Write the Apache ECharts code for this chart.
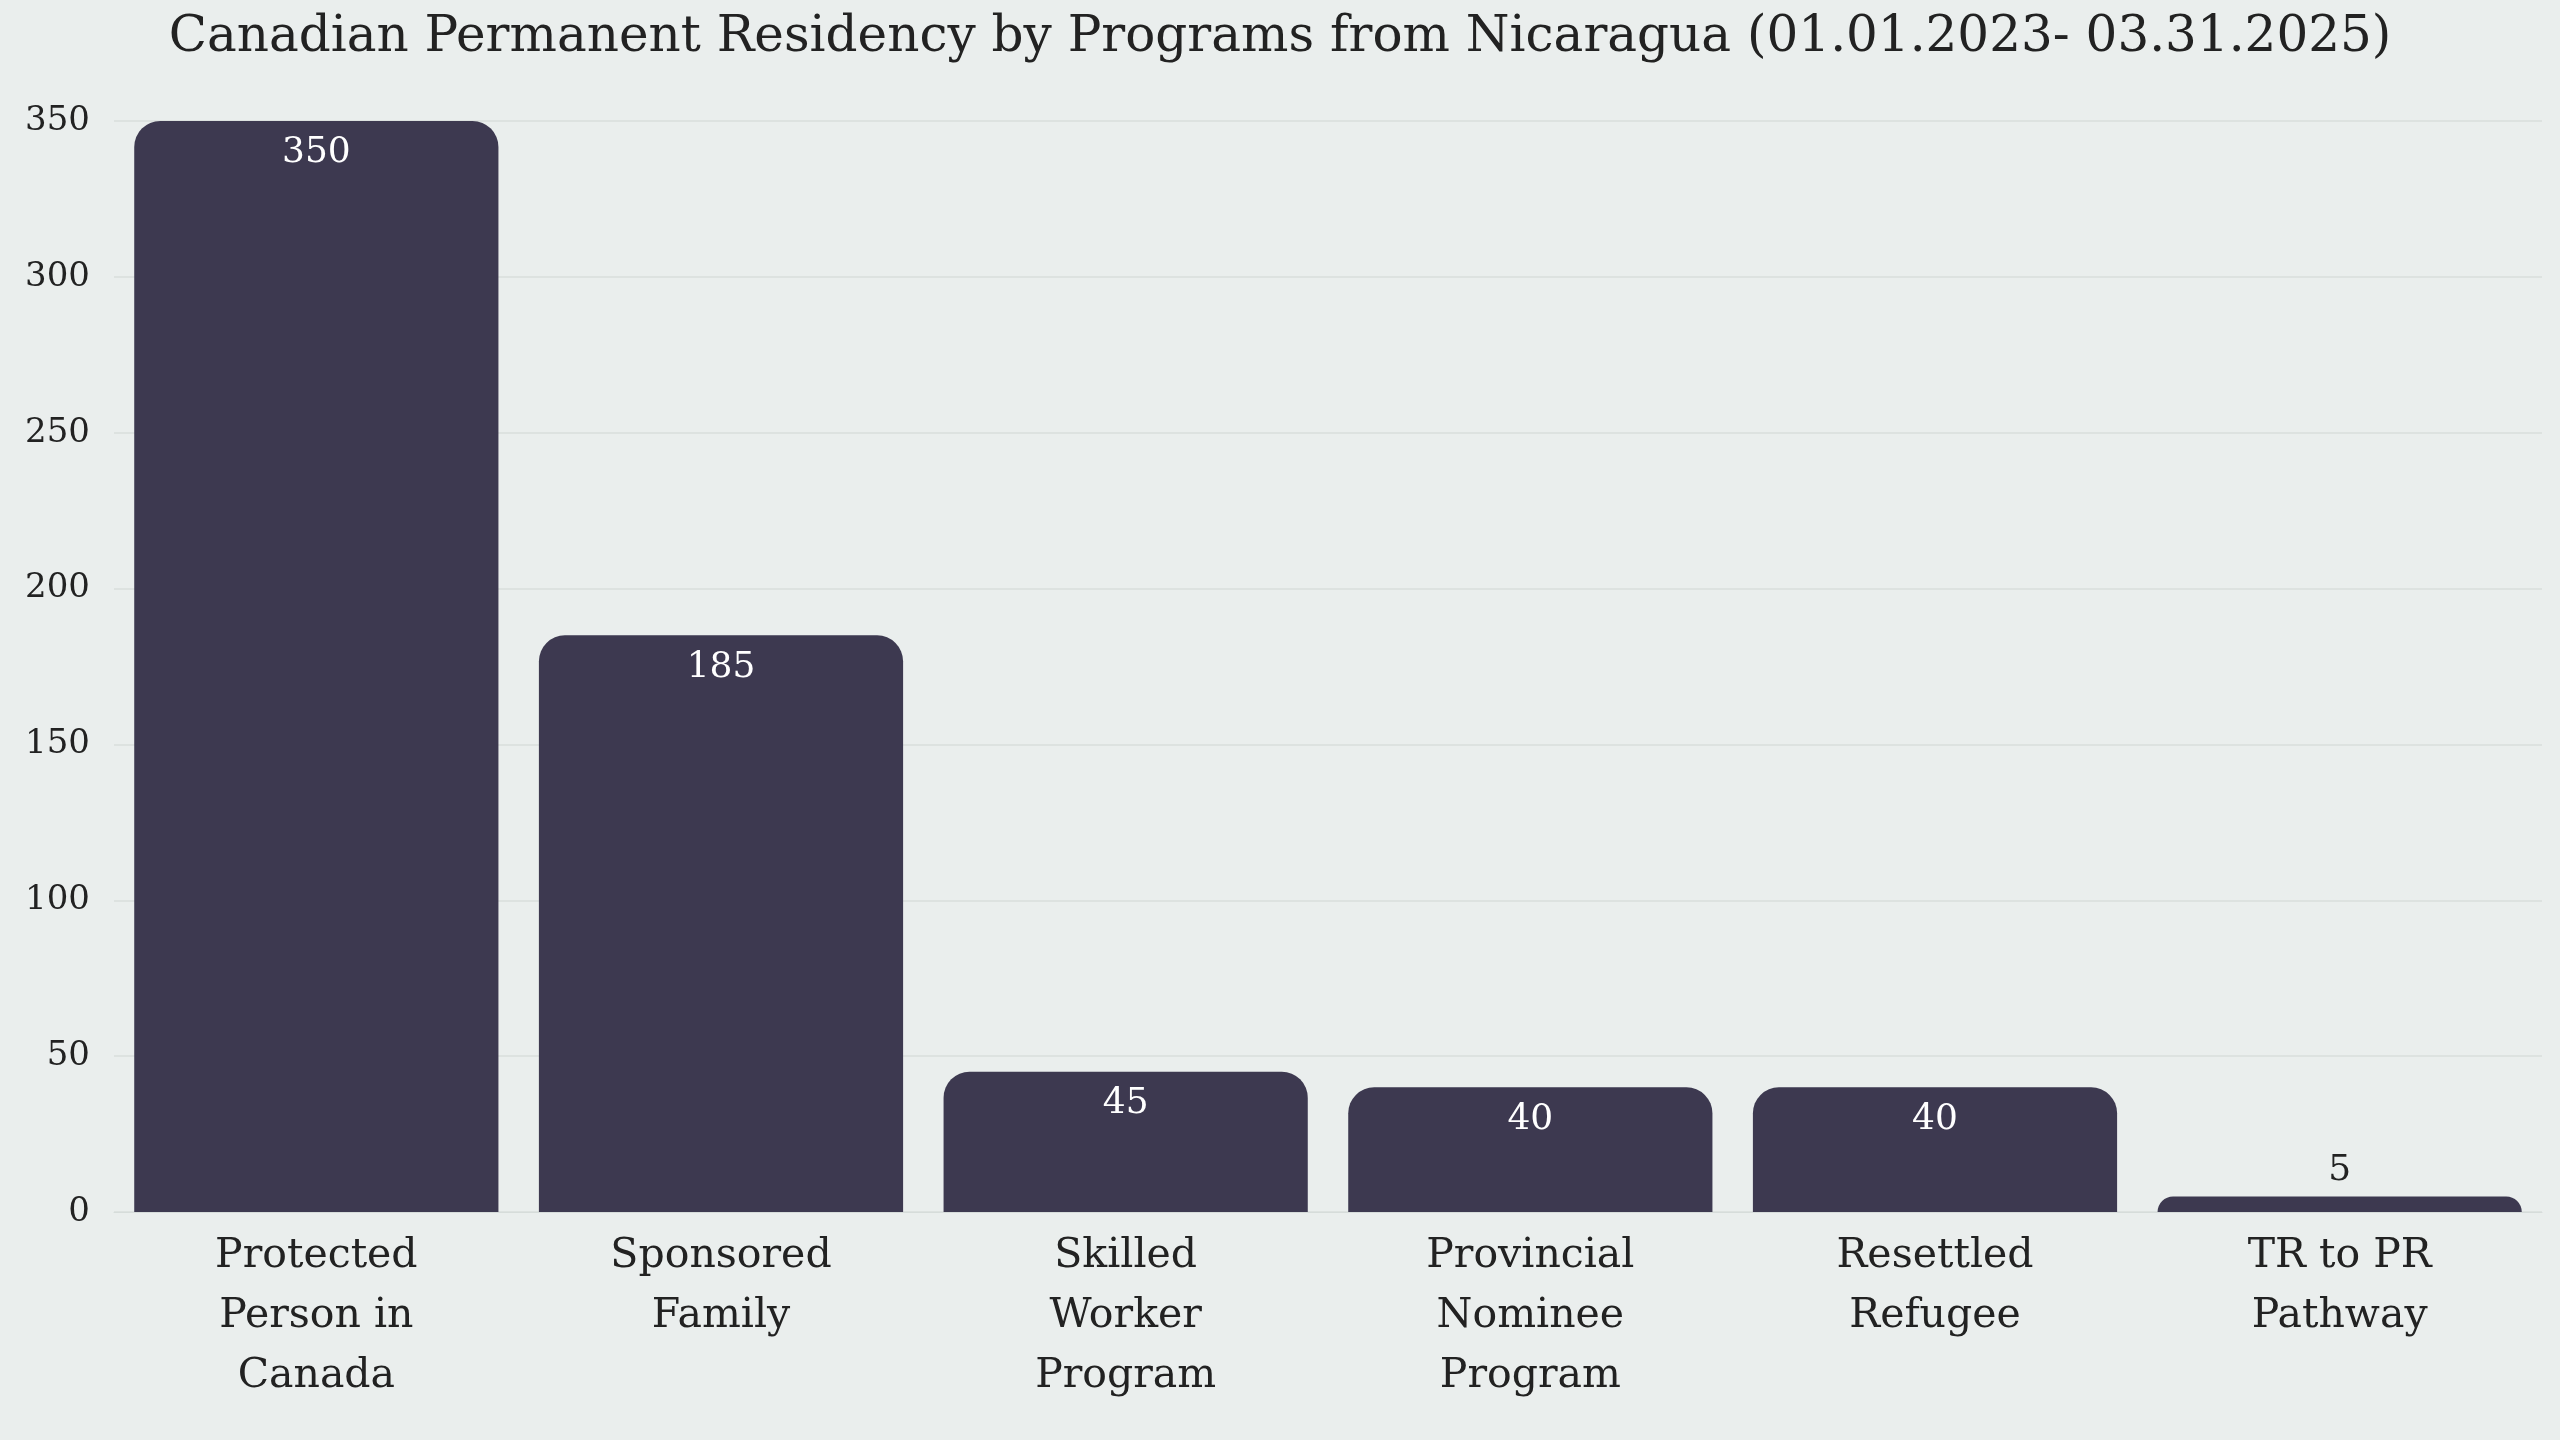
<!DOCTYPE html>
<html><head><meta charset="utf-8">
<script src="https://cdn.jsdelivr.net/npm/echarts@6/dist/echarts.min.js"></script>
<style>html,body{margin:0;background:#eaeeed}#c{width:2560px;height:1440px}</style>
</head><body><div id="c"></div>
<script>
const categories = ["Protected\nPerson in\nCanada","Sponsored\nFamily","Skilled\nWorker\nProgram","Provincial\nNominee\nProgram","Resettled\nRefugee","TR to PR\nPathway"];
const values = [350,185,45,40,40,5];
const yTicks = [0,50,100,150,200,250,300,350];
const font = "'DejaVu Serif','Liberation Serif',serif";
const chart = echarts.init(document.getElementById('c'));
chart.setOption({
  backgroundColor:'#eaeeed',
  textStyle:{fontFamily:font},
  title:{text:'Canadian Permanent Residency by Programs from Nicaragua (01.01.2023- 03.31.2025)',left:'center',top:8,textStyle:{fontFamily:font,fontSize:50,fontWeight:'normal',color:'#222'}},
  grid:{left:114,right:18,top:121,bottom:228},
  xAxis:{type:'category',data:categories,axisLine:{show:true,lineStyle:{color:'#d6dcda'}},axisTick:{show:false},
    axisLabel:{fontFamily:font,fontSize:41,color:'#222',lineHeight:60,margin:14,interval:0}},
  yAxis:{type:'value',min:0,max:yTicks[yTicks.length-1],interval:50,
    axisLabel:{fontFamily:font,fontSize:34,color:'#222',margin:24},
    splitLine:{lineStyle:{color:'#dde2e0',width:2}}},
  series:[{type:'bar',barCategoryGap:'10%',
    data:values.map(v=>({value:v,label:v<20?{position:'top',color:'#222',distance:8}:{position:'insideTop',color:'#fff',distance:14}})),
    itemStyle:{color:'#3d3950',borderRadius:[26,26,0,0]},
    label:{show:true,fontFamily:font,fontSize:36}}]
});
</script></body></html>
